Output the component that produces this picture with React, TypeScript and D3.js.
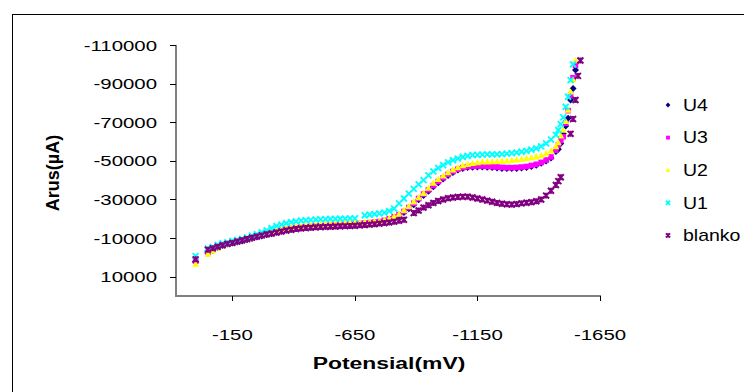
import React from 'react';
import * as d3 from 'd3';

// Potential (mV) sample grid
const potentials: number[] = [
  0, -50, -70, -90, -110, -130, -150, -170, -190, -210,
  -230, -250, -270, -290, -310, -330, -350, -370, -390, -410,
  -430, -450, -470, -490, -510, -530, -550, -570, -590, -610,
  -630, -650, -670, -690, -710, -730, -750, -770, -790, -810,
  -830, -850, -870, -890, -910, -930, -950, -970, -990, -1010,
  -1030, -1050, -1070, -1090, -1110, -1130, -1150, -1170, -1190, -1210,
  -1230, -1250, -1270, -1290, -1310, -1330, -1350, -1370, -1390, -1410,
  -1430, -1450, -1470, -1480, -1490, -1500, -1510, -1520, -1530, -1540,
  -1550, -1560, -1570,
];

const u4: (number | null)[] = [
  2500, -2200, -3700, -5100, -6200, -6900, -7500, -8000, -8500, -9100,
  -9800, -10500, -11100, -11700, -12300, -13000, -13600, -14200, -14600, -15000,
  -15300, -15500, -15700, -15900, -16000, -16100, -16300, -16400, -16600, -16700,
  -16900, -17000, -17200, -17400, -17600, -17900, -18200, -18700, -19400, -20400,
  -21600, -23200, -25200, -27300, -29800, -32100, -34300, -36600, -38700, -40600,
  -42400, -44000, -45200, -46000, -46500, -46700, -46800, -46800, -46700, -46500,
  -46300, -46100, -46000, -46000, -46100, -46300, -46600, -47100, -47700, -48700,
  -49900, -51500, -54800, -56000, -59000, -64000, -68000, -72000, -81500, -87500,
  -97000, null, null,
];

const u3: (number | null)[] = [
  2000, -2600, -4000, -5400, -6500, -7200, -7800, -8300, -8800, -9400,
  -10100, -10800, -11400, -12000, -12600, -13300, -14000, -14600, -15000, -15400,
  -15700, -15900, -16100, -16300, -16400, -16500, -16700, -16800, -17000, -17100,
  -17300, -17400, -17600, -17800, -18000, -18300, -18600, -19200, -20000, -21000,
  -22200, -23800, -25800, -28000, -30500, -32800, -35000, -37200, -39300, -41200,
  -43000, -44500, -45700, -46500, -47000, -47200, -47300, -47300, -47200, -47000,
  -46800, -46600, -46500, -46500, -46600, -46800, -47100, -47600, -48200, -49200,
  -50400, -52000, -55500, -58200, -60500, -62500, -69500, -76000, -84000, -93000,
  -99500, null, null,
];

const u2: (number | null)[] = [
  3400, -1800, -3500, -5000, -6200, -7000, -7700, -8300, -8900, -9500,
  -10300, -11000, -11700, -12300, -13000, -13800, -14500, -15100, -15600, -16000,
  -16300, -16500, -16700, -16900, -17000, -17100, -17300, -17400, -17600, -17700,
  -17900, -18000, -18100, -18300, -18400, -18600, -18900, -19400, -20300, -21300,
  -22500, -24500, -26500, -28800, -31000, -33300, -36000, -38500, -40500, -42300,
  -44000, -45400, -46600, -47600, -48300, -48800, -49200, -49500, -49600, -49700,
  -49800, -50000, -50100, -50300, -50600, -51000, -51300, -51700, -52200, -52800,
  -53800, -55300, -57500, -59500, -63000, -66000, -70500, -76300, -85800, -92000,
  -102000, null, null,
];

const u1: (number | null)[] = [
  -700, -4700, -5400, -6500, -7300, -7800, -8500, -9000, -9600, -10300,
  -11200, -12000, -13000, -14000, -15100, -16200, -17000, -17700, -18300, -18700,
  -19000, -19200, -19400, -19600, -19700, -19800, -19900, -19900, -20000, -20100,
  -20200, -20200, null, -21800, -22100, -22400, -22800, -23200, -24000, -25300,
  -28000, -30500, -33000, -35500, -37800, -40000, -42500, -44500, -46300, -47800,
  -49200, -50300, -51200, -52000, -52600, -53000, -53100, -53200, -53300, -53300,
  -53400, -53500, -53700, -54000, -54300, -54700, -55200, -55800, -56500, -57500,
  -59000, -61000, -63500, -66000, -69000, -72500, -78000, -83200, -91800, -100000,
  null, null, null,
];

const blanko: (number | null)[] = [
  1000, -4000, -4700, -5500, -6300, -7000, -7500, -8200, -8900, -9500,
  -10200, -10800, -11400, -12000, -12400, -12900, -13400, -13900, -14300, -14700,
  -15000, -15200, -15400, -15600, -15700, -15800, -15900, -16000, -16100, -16200,
  -16300, -16400, -16600, -16800, -17000, -17200, -17500, -17800, -18100, -18500,
  -19000, -19500, null, -23000, -24300, -25800, -27000, -28200, -29200, -30000,
  -30600, -31000, -31300, -31400, -31400, -31000, -30500, -30000, -29400, -28800,
  -28200, -27800, -27500, -27400, -27600, -28000, -28300, -28600, -29100, -30000,
  -32000, -34500, -37500, -39500, -41500, null, null, null, -64000, -71700,
  -81500, -94000, -102000,
];

const seriesNames = ['U4', 'U3', 'U2', 'U1', 'blanko'];
const seriesValues = [u4, u3, u2, u1, blanko];
const seriesColors = ['#000080', '#FF00FF', '#FFFF00', '#00FFFF', '#800080'];
const seriesMarkers = ['diamond', 'square', 'triangle', 'x', 'star'];

const yTicks = [-110000, -90000, -70000, -50000, -30000, -10000, 10000];
const xTicks = [-150, -650, -1150, -1650];

const FONT = '"Liberation Sans", Arial, sans-serif';

function Marker({ kind, cx, cy, color, s }: { kind: string; cx: number; cy: number; color: string; s: number }) {
  if (kind === 'diamond') {
    return <path d={`M${cx},${cy - s}L${cx + s},${cy}L${cx},${cy + s}L${cx - s},${cy}Z`} fill={color} />;
  }
  if (kind === 'square') {
    const h = s * 0.8;
    return <rect x={cx - h} y={cy - h} width={2 * h} height={2 * h} fill={color} />;
  }
  if (kind === 'triangle') {
    return <path d={`M${cx},${cy - s}L${cx + s},${cy + s * 0.8}L${cx - s},${cy + s * 0.8}Z`} fill={color} />;
  }
  if (kind === 'x') {
    const h = s * 0.85;
    return (
      <path d={`M${cx - h},${cy - h}L${cx + h},${cy + h}M${cx - h},${cy + h}L${cx + h},${cy - h}`} stroke={color} strokeWidth={1.9} fill="none" />
    );
  }
  const h = s * 0.85;
  return (
    <path
      d={`M${cx - h},${cy - h}L${cx + h},${cy + h}M${cx - h},${cy + h}L${cx + h},${cy - h}M${cx},${cy - h}L${cx},${cy + h}`}
      stroke={color}
      strokeWidth={2}
      fill="none"
    />
  );
}

export default function App() {
  const W = 744;
  const H = 392;
  const x = d3.scaleLinear().domain([80, -1650]).range([176, 600]);
  const y = d3.scaleLinear().domain([-110000, 20000]).range([45, 296]);

  return (
    <svg width={W} height={H} style={{ position: 'absolute', left: 0, top: 0, background: '#fff' }} fontFamily={FONT}>
      <rect x={0} y={0} width={W} height={H} fill="#fff" />
      <rect x={12.5} y={14.5} width={760} height={420} fill="none" stroke="#000" strokeWidth={1} />

      {/* axes */}
      <line x1={176} x2={176} y1={45} y2={296} stroke="#808080" strokeWidth={2} />
      <line x1={175} x2={601} y1={296} y2={296} stroke="#808080" strokeWidth={2} />
      {yTicks.map((t) => (
        <g key={t}>
          <line x1={170} x2={176} y1={Math.round(y(t)) + 0.5} y2={Math.round(y(t)) + 0.5} stroke="#000" />
          <text
            transform={`translate(157,${y(t) + 5.5}) scale(1.36,1)`}
            textAnchor="end"
            fontSize={15}
            fill="#000"
          >
            {String(t)}
          </text>
        </g>
      ))}
      {xTicks.map((t) => (
        <g key={t}>
          <line x1={Math.round(x(t)) + 0.5} x2={Math.round(x(t)) + 0.5} y1={296} y2={301} stroke="#000" />
          <text transform={`translate(${x(t)},340) scale(1.36,1)`} textAnchor="middle" fontSize={15} fill="#000">
            {String(t)}
          </text>
        </g>
      ))}

      {/* axis titles */}
      <text transform="translate(389,369) scale(1.43,1)" textAnchor="middle" fontSize={16} fontWeight="bold" fill="#000">
        Potensial(mV)
      </text>
      <text transform="translate(59,173) rotate(-90)" textAnchor="middle" fontSize={18} fontWeight="bold" fill="#000">
        Arus(µA)
      </text>

      {/* data */}
      {seriesValues.map((vals, si) => (
        <g key={seriesNames[si]}>
          {vals.map((v, i) =>
            v === null ? null : (
              <Marker key={i} kind={seriesMarkers[si]} cx={x(potentials[i])} cy={y(v)} color={seriesColors[si]} s={3.5} />
            )
          )}
        </g>
      ))}

      {/* legend */}
      {seriesNames.map((n, i) => {
        const ly = 105 + i * 32.6;
        return (
          <g key={n}>
            <Marker kind={seriesMarkers[i]} cx={668} cy={ly} color={seriesColors[i]} s={2.4} />
            <text transform={`translate(683,${ly + 5.8}) scale(1.22,1)`} fontSize={16} fill="#000">
              {n}
            </text>
          </g>
        );
      })}
    </svg>
  );
}
